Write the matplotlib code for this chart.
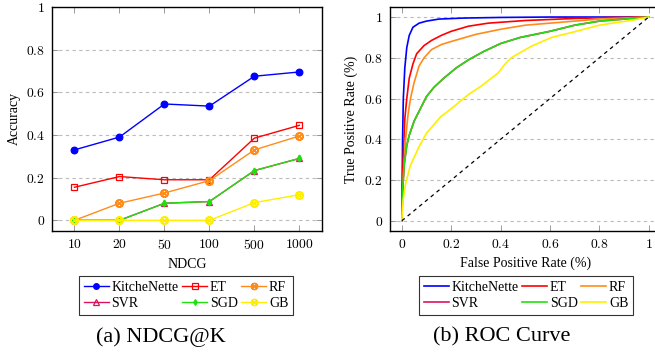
import matplotlib.pyplot as plt
from matplotlib.ticker import FuncFormatter

plt.rcParams['font.family'] = ['Liberation Serif', 'DejaVu Serif']
plt.rcParams['mathtext.fontset'] = 'cm'

# ---- NDCG@K data ----
k_labels = ['10', '20', '50', '100', '500', '1000']
ndcg_kitchenette = [0.33, 0.39, 0.545, 0.535, 0.675, 0.695]
ndcg_et = [0.155, 0.205, 0.19, 0.19, 0.385, 0.445]
ndcg_rf = [0.0, 0.08, 0.128, 0.186, 0.33, 0.395]
ndcg_svr = [0.0, 0.0, 0.08, 0.088, 0.233, 0.29]
ndcg_sgd = [0.0, 0.0, 0.08, 0.088, 0.233, 0.29]
ndcg_gb = [0.0, 0.0, 0.0, 0.0, 0.083, 0.12]

# ---- ROC data ----
fpr_kn = [0, 0.003, 0.006, 0.012, 0.02, 0.03, 0.045, 0.07, 0.1, 0.15, 0.25, 0.4, 0.6, 1.0]
tpr_kn = [0, 0.4, 0.6, 0.75, 0.85, 0.91, 0.95, 0.97, 0.98, 0.99, 0.995, 0.998, 1.0, 1.0]
fpr_et = [0, 0.005, 0.012, 0.02, 0.03, 0.045, 0.06, 0.09, 0.12, 0.16, 0.2, 0.27, 0.35, 0.5, 0.7, 0.85, 1.0]
tpr_et = [0, 0.3, 0.5, 0.6, 0.7, 0.77, 0.82, 0.86, 0.885, 0.91, 0.93, 0.955, 0.97, 0.983, 0.993, 0.998, 1.0]
fpr_rf = [0, 0.005, 0.015, 0.025, 0.035, 0.05, 0.07, 0.09, 0.12, 0.16, 0.2, 0.3, 0.4, 0.5, 0.65, 0.8, 1.0]
tpr_rf = [0, 0.2, 0.4, 0.52, 0.6, 0.68, 0.76, 0.8, 0.84, 0.865, 0.88, 0.915, 0.94, 0.96, 0.975, 0.99, 1.0]
fpr_sgd = [0, 0.003, 0.01, 0.02, 0.03, 0.05, 0.075, 0.1, 0.13, 0.17, 0.22, 0.27, 0.33, 0.4, 0.48, 0.6, 0.7, 0.8, 0.9, 1.0]
tpr_sgd = [0, 0.15, 0.28, 0.37, 0.42, 0.49, 0.55, 0.61, 0.655, 0.7, 0.75, 0.79, 0.83, 0.87, 0.9, 0.93, 0.96, 0.98, 0.99, 1.0]
fpr_svr = fpr_sgd
tpr_svr = tpr_sgd
fpr_gb = [0, 0.005, 0.015, 0.034, 0.068, 0.1, 0.157, 0.2, 0.27, 0.32, 0.39, 0.415, 0.443, 0.525, 0.607, 0.69, 0.8, 0.935, 1.0]
tpr_gb = [0, 0.1, 0.18, 0.27, 0.36, 0.43, 0.51, 0.55, 0.62, 0.66, 0.725, 0.765, 0.8, 0.857, 0.9, 0.925, 0.96, 0.985, 1.0]

names = ['KitcheNette', 'ET', 'RF', 'SVR', 'SGD', 'GB']
colors = ['#0000FF', '#FF0000', '#FF8C1A', '#DC1460', '#22E010', '#FFEE00']

fig = plt.figure(figsize=(6.55, 3.53), dpi=100)
ax1 = fig.add_axes([0.0794, 0.3456, 0.412, 0.635])
ax2 = fig.add_axes([0.5954, 0.3456, 0.415, 0.635])

fmt = FuncFormatter(lambda v, p: '$%g$' % round(v, 2))


def style_axes(ax):
    for s in ax.spines.values():
        s.set_color('black')
        s.set_linewidth(1.0)
    ax.tick_params(direction='in', length=4, width=0.6, color='0.55',
                   top=True, right=True, labelsize=9.8, pad=5)
    ax.yaxis.grid(True, linestyle=(0, (3, 3)), color='#BBBBBB', linewidth=0.8)
    ax.set_axisbelow(True)
    ax.yaxis.set_major_formatter(fmt)


# legend wants rows: KitcheNette ET RF / SVR SGD GB (matplotlib fills by column)
row_order = [0, 3, 1, 4, 2, 5]

# ---- left: NDCG@K ----
xs = list(range(len(k_labels)))
series = [ndcg_kitchenette, ndcg_et, ndcg_rf, ndcg_svr, ndcg_sgd, ndcg_gb]
markers = ['o', 's', r'$\otimes$', '^', 'd', r'$\otimes$']
msizes = [4.8, 5, 5.5, 4.5, 3.5, 5.5]
mfcs = ['#0000FF', 'none', '#FF8C1A', 'none', '#22E010', '#FFEE00']
handles1 = []
for ys, nm, c, m, ms, fc in zip(series, names, colors, markers, msizes, mfcs):
    h, = ax1.plot(xs, ys, color=c, marker=m, markersize=ms, markerfacecolor=fc,
                  markeredgecolor=c, markeredgewidth=0.9, linewidth=1.0, label=nm)
    handles1.append(h)
ax1.set_xlim(-0.5, 5.5)
ax1.set_ylim(-0.05, 1.0)
ax1.set_yticks([0, 0.2, 0.4, 0.6, 0.8, 1.0])
ax1.set_xticks(xs)
ax1.set_xticklabels(['$%s$' % t for t in k_labels])
style_axes(ax1)
ax1.set_xlabel('NDCG', fontsize=10)
ax1.set_ylabel('Accuracy', fontsize=10)

# ---- right: ROC ----
roc = [(fpr_kn, tpr_kn), (fpr_et, tpr_et), (fpr_rf, tpr_rf),
       (fpr_svr, tpr_svr), (fpr_sgd, tpr_sgd), (fpr_gb, tpr_gb)]
handles2 = []
for (fx, fy), nm, c in zip(roc, names, colors):
    h, = ax2.plot(fx, fy, color=c, linewidth=1.2, label=nm)
    handles2.append(h)
ax2.plot([0, 1], [0, 1], color='black', linestyle=(0, (3, 3)), linewidth=0.9)
ax2.set_xlim(-0.048, 1.053)
ax2.set_ylim(-0.05, 1.05)
ax2.set_xticks([0, 0.2, 0.4, 0.6, 0.8, 1.0])
ax2.set_yticks([0, 0.2, 0.4, 0.6, 0.8, 1.0])
ax2.xaxis.set_major_formatter(fmt)
style_axes(ax2)
ax2.spines['right'].set_visible(False)
ax2.set_xlabel('False Positive Rate (%)', fontsize=10)
ax2.set_ylabel('True Positive Rate (%)', fontsize=10)

leg_kw = dict(loc='center', ncol=3, fontsize=10, frameon=True, fancybox=False,
              edgecolor='black', handlelength=1.8, handletextpad=0.2,
              columnspacing=0.25, labelspacing=0.25, borderpad=0.35,
              markerscale=0.85)
l1 = fig.legend(handles=[handles1[i] for i in row_order],
                bbox_to_anchor=(0.284, 0.163), **leg_kw)
l2 = fig.legend(handles=[handles2[i] for i in row_order],
                bbox_to_anchor=(0.803, 0.163), **leg_kw)
for l in (l1, l2):
    l.get_frame().set_linewidth(0.8)

fig.text(0.246, 0.045, '(a) NDCG@K', ha='center', va='center', fontsize=16)
fig.text(0.766, 0.045, '(b) ROC Curve', ha='center', va='center', fontsize=16)

fig.savefig('out.png', dpi=100)
